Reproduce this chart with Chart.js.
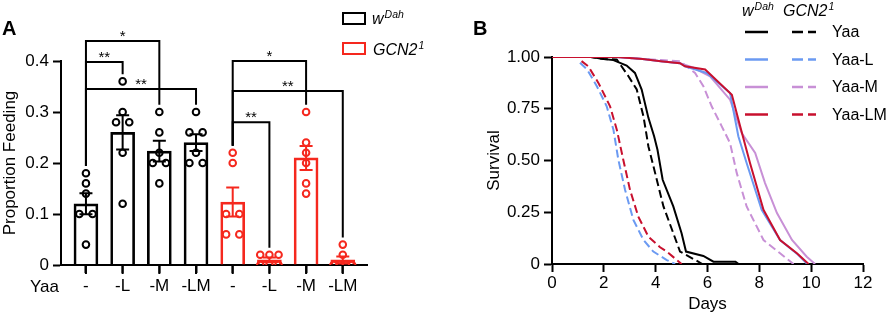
<!DOCTYPE html>
<html>
<head>
<meta charset="utf-8">
<script src="https://cdn.jsdelivr.net/npm/chart.js@4/dist/chart.umd.min.js"></script>
<style>
  body { margin: 0; background: #fff; }
  #wrap { position: relative; width: 892px; height: 315px; }
  canvas { position: absolute; top: 0; }
</style>
</head>
<body>
<div id="wrap">
  <canvas id="chartA" width="445" height="315" style="left:0"></canvas>
  <canvas id="chartB" width="447" height="315" style="left:445px"></canvas>
</div>
<script>
const FONT = '"Liberation Sans", Arial, Helvetica, sans-serif';
Chart.defaults.font.family = FONT;
Chart.defaults.color = '#000';

// ---- Panel A : proportion feeding, one list of flies per bar ----
const yaaDiets = ['-', '-L', '-M', '-LM'];
const wDahFeeding = [
  [0.18, 0.16, 0.14, 0.10, 0.10, 0.04],
  [0.36, 0.30, 0.28, 0.28, 0.22, 0.12],
  [0.30, 0.26, 0.22, 0.20, 0.20, 0.16],
  [0.30, 0.26, 0.26, 0.22, 0.20, 0.20]
];
const gcn2Feeding = [
  [0.22, 0.20, 0.10, 0.10, 0.06, 0.06],
  [0.02, 0.02, 0.02, 0, 0, 0],
  [0.30, 0.24, 0.22, 0.20, 0.16, 0.14],
  [0.04, 0.02, 0, 0, 0, 0]
];
// significance brackets: bar indexes, height (proportion), stars
const brackets = [
  { from: 0, to: 2, level: 0.439, label: '*' },
  { from: 0, to: 1, level: 0.398, label: '**' },
  { from: 0, to: 3, level: 0.345, label: '**' },
  { from: 4, to: 6, level: 0.400, label: '*' },
  { from: 4, to: 7, level: 0.341, label: '**' },
  { from: 4, to: 5, level: 0.280, label: '**' }
];

// ---- Panel B : survival curves, [day, survival] ----
const dietLabels = ['Yaa', 'Yaa-L', 'Yaa-M', 'Yaa-LM'];
const survWDahYaa = [[0, 1], [1.5, 1], [2.0, 0.99], [2.37, 0.985], [2.88, 0.959], [3.2, 0.923], [3.46, 0.843],
  [3.72, 0.706], [3.94, 0.617], [4.07, 0.552], [4.27, 0.407], [4.68, 0.278], [5.0, 0.149], [5.17, 0.06],
  [5.84, 0.039], [6.23, 0.011], [7.08, 0.011], [7.2, 0]];
const survWDahYaaL = [[0, 1], [2.5, 1], [3.5, 0.99], [4.2, 0.98], [4.94, 0.97], [5.13, 0.955], [5.97, 0.923],
  [6.87, 0.826], [7.19, 0.617], [7.51, 0.488], [8.09, 0.262], [8.8, 0.116], [9.45, 0.05], [9.85, 0]];
const survWDahYaaM = [[0, 1], [2.5, 1], [3.5, 0.99], [4.2, 0.98], [4.94, 0.97], [5.46, 0.948], [6.1, 0.907],
  [6.87, 0.794], [7.32, 0.633], [7.84, 0.536], [8.22, 0.391], [8.68, 0.246], [9.26, 0.116], [9.83, 0.035], [10.15, 0]];
const survWDahYaaLM = [[0, 1], [2.5, 1], [3.5, 0.99], [4.2, 0.98], [4.94, 0.97], [5.13, 0.955], [5.91, 0.94],
  [6.94, 0.818], [7.26, 0.665], [7.64, 0.488], [8.16, 0.262], [8.8, 0.116], [9.45, 0.052], [9.9, 0]];
const survGcn2Yaa = [[0, 1], [1.5, 1], [2.0, 0.99], [2.5, 0.988], [2.95, 0.907], [3.27, 0.843], [3.53, 0.713],
  [3.72, 0.568], [3.98, 0.439], [4.3, 0.278], [4.68, 0.149], [4.94, 0.06], [5.52, 0.02], [5.8, 0]];
const survGcn2YaaL = [[1.08, 0.972], [1.36, 0.939], [1.73, 0.859], [2.11, 0.762], [2.37, 0.649], [2.56, 0.504],
  [2.82, 0.358], [3.14, 0.213], [3.53, 0.116], [3.91, 0.06], [4.43, 0.019], [4.75, 0]];
const survGcn2YaaM = [[0, 1], [2.5, 1], [3.5, 0.99], [4.2, 0.985], [4.94, 0.98], [5.52, 0.923], [5.84, 0.859],
  [6.16, 0.762], [6.55, 0.665], [6.87, 0.584], [7.13, 0.439], [7.51, 0.278], [8.16, 0.116], [8.8, 0.052], [9.32, 0]];
const survGcn2YaaLM = [[1.14, 0.98], [1.4, 0.955], [1.79, 0.875], [2.24, 0.762], [2.5, 0.649], [2.75, 0.504],
  [3.01, 0.358], [3.33, 0.229], [3.72, 0.132], [4.17, 0.081], [4.43, 0.06], [5.0, 0]];
const wDahSurvival = [survWDahYaa, survWDahYaaL, survWDahYaaM, survWDahYaaLM];
const gcn2Survival = [survGcn2Yaa, survGcn2YaaL, survGcn2YaaM, survGcn2YaaLM];

// colours
const black = '#000000';
const red = '#f5281e';
const dietColors = ['#000000', '#6b9af2', '#c890d6', '#c8102e'];

/* -------------------------------
   PANEL A
   ------------------------------- */
const feeding = wDahFeeding.concat(gcn2Feeding);
const categories = yaaDiets.concat(yaaDiets);
const barColors = feeding.map((_, i) => i < wDahFeeding.length ? black : red);
const mean = a => a.reduce((s, v) => s + v, 0) / a.length;
const sem = a => {
  const m = mean(a);
  return Math.sqrt(a.reduce((s, v) => s + (v - m) ** 2, 0) / (a.length - 1) / a.length);
};
const means = feeding.map(mean);
const sems = feeding.map(sem);

// spread equal values side by side, like a scatter dot plot
function spread(values, center) {
  const counts = {}, seen = {};
  values.forEach(v => counts[v] = (counts[v] || 0) + 1);
  return values.map(v => {
    const k = counts[v];
    const j = seen[v] = (seen[v] === undefined ? 0 : seen[v] + 1);
    const gap = k === 2 ? 0.36 : k === 3 ? 0.25 : 0.17;
    return { x: center + (j - (k - 1) / 2) * gap, y: v };
  });
}
const dots = [], dotColors = [];
feeding.forEach((vals, i) => spread(vals, i).forEach(p => { dots.push(p); dotColors.push(barColors[i]); }));

function supText(ctx, base, sup, x, y, size, supSize, raise) {
  ctx.font = `italic ${size}px ${FONT}`;
  ctx.fillText(base, x, y);
  const w = ctx.measureText(base).width;
  ctx.font = `italic ${supSize}px ${FONT}`;
  ctx.fillText(sup, x + w + 1, y - raise);
}

const panelA = {
  id: 'panelA',
  afterDatasetsDraw(chart) {
    const { ctx, scales: { x, y } } = chart;
    ctx.save();
    ctx.lineWidth = 2;
    // mean ± SEM
    means.forEach((m, i) => {
      const px = x.getPixelForValue(i);
      const top = y.getPixelForValue(m + sems[i]);
      const bot = y.getPixelForValue(Math.max(0, m - sems[i]));
      ctx.strokeStyle = barColors[i];
      ctx.beginPath();
      ctx.moveTo(px, top); ctx.lineTo(px, bot);
      ctx.moveTo(px - 6.5, top); ctx.lineTo(px + 6.5, top);
      ctx.moveTo(px - 6.5, bot); ctx.lineTo(px + 6.5, bot);
      ctx.stroke();
    });
    // brackets
    ctx.strokeStyle = '#000';
    ctx.fillStyle = '#000';
    ctx.font = `15px ${FONT}`;
    ctx.textAlign = 'center';
    brackets.forEach(b => {
      const x1 = x.getPixelForValue(b.from), x2 = x.getPixelForValue(b.to);
      const ly = y.getPixelForValue(b.level);
      const e1 = y.getPixelForValue(Math.max(...feeding[b.from]) + 0.014);
      const e2 = y.getPixelForValue(Math.max(...feeding[b.to]) + 0.014);
      ctx.beginPath();
      ctx.moveTo(x1, e1); ctx.lineTo(x1, ly); ctx.lineTo(x2, ly); ctx.lineTo(x2, e2);
      ctx.stroke();
      ctx.fillText(b.label, (x1 + x2) / 2, ly);
    });
    ctx.restore();
  },
  afterDraw(chart) {
    const { ctx, chartArea, scales: { x, y } } = chart;
    ctx.save();
    // category tick marks under the x axis
    const base = y.getPixelForValue(0);
    ctx.strokeStyle = '#000';
    ctx.lineWidth = 2;
    ctx.beginPath();
    categories.forEach((c, i) => {
      const px = x.getPixelForValue(i);
      ctx.moveTo(px, base); ctx.lineTo(px, base + 9);
    });
    ctx.stroke();

    ctx.fillStyle = '#000';
    ctx.font = `bold 20px ${FONT}`;
    ctx.fillText('A', 2, 35);
    ctx.font = `17px ${FONT}`;
    ctx.fillText('Yaa', 30, 292);
    ctx.save();
    ctx.translate(10, (chartArea.top + chartArea.bottom) / 2);
    ctx.rotate(-Math.PI / 2);
    ctx.textAlign = 'center';
    ctx.textBaseline = 'middle';
    ctx.fillText('Proportion Feeding', 0, 0);
    ctx.restore();
    // legend
    ctx.lineWidth = 2;
    ctx.strokeStyle = black;
    ctx.strokeRect(343, 13, 22, 11);
    ctx.strokeStyle = red;
    ctx.strokeRect(343, 43, 22, 11);
    ctx.fillStyle = '#000';
    supText(ctx, 'w', 'Dah', 372, 23.5, 16, 10.5, 6);
    supText(ctx, 'GCN2', '1', 373, 55, 16, 10.5, 6.5);
    ctx.restore();
  }
};

const axisGrid = { offset: false, drawOnChartArea: false, tickLength: 8, tickWidth: 2, tickColor: '#000' };
const axisBorder = { color: '#000', width: 2 };

new Chart(document.getElementById('chartA'), {
  type: 'bar',
  data: {
    datasets: [
      {
        type: 'scatter',
        data: dots,
        pointRadius: 3.3,
        pointHoverRadius: 3.3,
        pointBorderWidth: 2,
        pointBorderColor: dotColors,
        pointBackgroundColor: 'rgba(0,0,0,0)',
        order: 1
      },
      {
        type: 'bar',
        data: means.map((m, i) => ({ x: i, y: m })),
        backgroundColor: 'rgba(0,0,0,0)',
        borderColor: barColors,
        borderWidth: 2,
        barThickness: 24,
        order: 2
      }
    ]
  },
  options: {
    responsive: false,
    animation: false,
    layout: { padding: { top: 61, right: 78, left: 0, bottom: 0 } },
    plugins: { legend: { display: false }, tooltip: { enabled: false } },
    scales: {
      x: {
        type: 'linear', min: -0.68, max: 7.66, offset: false,
        afterBuildTicks: s => { s.ticks = categories.map((c, i) => ({ value: i })); },
        afterFit: s => { s.height = 50; },
        ticks: { callback: v => categories[v], font: { size: 17 }, color: '#000', padding: 3, maxRotation: 0, autoSkip: false },
        grid: axisGrid,
        border: axisBorder
      },
      y: {
        min: 0, max: 0.4,
        afterFit: s => { s.width = 61; },
        ticks: { stepSize: 0.1, callback: v => v === 0 ? '0' : v.toFixed(1), font: { size: 17 }, color: '#000', padding: 4 },
        grid: axisGrid,
        border: axisBorder
      }
    }
  },
  plugins: [panelA]
});

/* -------------------------------
   PANEL B
   ------------------------------- */
const drawOrder = [3, 1, 2, 0];   // which diet sits on top
const survDatasets = [];
[wDahSurvival, gcn2Survival].forEach((group, g) => {
  drawOrder.forEach(d => {
    survDatasets.push({
      label: dietLabels[d],
      data: group[d].map(p => ({ x: p[0], y: p[1] })),
      borderColor: dietColors[d],
      borderWidth: 2,
      borderDash: g === 0 ? [] : [8, 4],
      pointRadius: 0,
      tension: 0,
      fill: false
    });
  });
});

const panelB = {
  id: 'panelB',
  afterDraw(chart) {
    const { ctx, chartArea } = chart;
    ctx.save();
    ctx.fillStyle = '#000';
    ctx.font = `bold 20px ${FONT}`;
    ctx.fillText('B', 28, 35);
    ctx.font = `17px ${FONT}`;
    ctx.textAlign = 'center';
    ctx.fillText('Days', (chartArea.left + chartArea.right) / 2, 309);
    ctx.save();
    ctx.translate(49, (chartArea.top + chartArea.bottom) / 2);
    ctx.rotate(-Math.PI / 2);
    ctx.textBaseline = 'middle';
    ctx.fillText('Survival', 0, 0);
    ctx.restore();
    // legend, two columns
    ctx.textAlign = 'left';
    supText(ctx, 'w', 'Dah', 297, 16, 16, 10.5, 6);
    supText(ctx, 'GCN2', '1', 338, 16, 16, 10.5, 6.5);
    ctx.font = `16px ${FONT}`;
    ctx.textBaseline = 'middle';
    ctx.lineWidth = 2.5;
    dietLabels.forEach((lab, i) => {
      const ry = 32 + i * 27.5;
      ctx.strokeStyle = dietColors[i];
      ctx.setLineDash([]);
      ctx.beginPath(); ctx.moveTo(300, ry); ctx.lineTo(323, ry); ctx.stroke();
      ctx.setLineDash([11, 5]);
      ctx.beginPath(); ctx.moveTo(347, ry); ctx.lineTo(371, ry); ctx.stroke();
      ctx.fillText(lab, 387, ry + 1);
    });
    ctx.restore();
  }
};

new Chart(document.getElementById('chartB'), {
  type: 'line',
  data: { datasets: survDatasets },
  options: {
    responsive: false,
    animation: false,
    layout: { padding: { top: 57, right: 29, left: 0, bottom: 0 } },
    plugins: { legend: { display: false }, tooltip: { enabled: false } },
    scales: {
      x: {
        type: 'linear', min: 0, max: 12,
        afterFit: s => { s.height = 51; },
        ticks: { stepSize: 2, font: { size: 17 }, color: '#000', padding: 1, maxRotation: 0 },
        grid: axisGrid,
        border: axisBorder
      },
      y: {
        min: 0, max: 1,
        afterFit: s => { s.width = 107; },
        ticks: { stepSize: 0.25, callback: v => v === 0 ? '0' : v.toFixed(2), font: { size: 17 }, color: '#000', padding: 4 },
        grid: axisGrid,
        border: axisBorder
      }
    }
  },
  plugins: [panelB]
});
</script>
</body>
</html>
